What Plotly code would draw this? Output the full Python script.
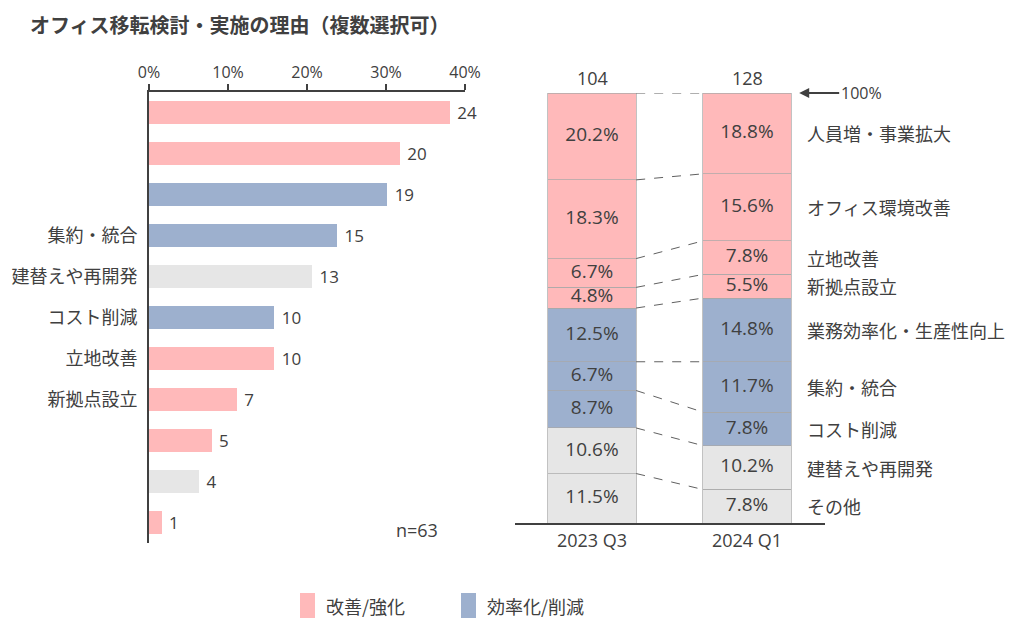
import numpy as np
import plotly.graph_objects as go

FONT = "Open Sans, Noto Sans CJK JP"
JFONT = "Noto Sans CJK JP"
TXT = "#404040"
PINK = "#FFB9BA"
BLUE = "#9DB0CE"
GRAY = "#E6E6E6"

# ---- left chart data ----
left_counts = [24, 20, 19, 15, 13, 10, 10, 7, 5, 4, 1]
left_labels = ["", "", "", "集約・統合", "建替えや再開発", "コスト削減", "立地改善", "新拠点設立", "", "", ""]
left_groups = ["pink", "pink", "blue", "blue", "gray", "blue", "pink", "pink", "pink", "gray", "pink"]
left_n = 63
left_ticks = [0, 10, 20, 30, 40]

# ---- right chart data ----
periods = ["2023 Q3", "2024 Q1"]
period_totals = [104, 128]
right_cats = ["人員増・事業拡大", "オフィス環境改善", "立地改善", "新拠点設立",
              "業務効率化・生産性向上", "集約・統合", "コスト削減", "建替えや再開発", "その他"]
right_groups = ["pink", "pink", "pink", "pink", "blue", "blue", "blue", "gray", "gray"]
share_2023 = [20.2, 18.3, 6.7, 4.8, 12.5, 6.7, 8.7, 10.6, 11.5]
share_2024 = [18.8, 15.6, 7.8, 5.5, 14.8, 11.7, 7.8, 10.2, 7.8]

legend_items = [("改善/強化", "pink"), ("効率化/削減", "blue")]
color_map = {"pink": PINK, "blue": BLUE, "gray": GRAY}

# page body has an 8px margin; figure is sized so it fits the window
OFF = 8
W, H = 1016 - 2 * OFF, 629 - 2 * OFF
def px(x):
    return (x - OFF) / W
def py(y):
    return 1 - (y - OFF) / H

fig = go.Figure()

# Left horizontal bars
pos = list(range(len(left_counts)))
pct = [c / left_n * 100 for c in left_counts]
fig.add_trace(go.Bar(
    x=pct, y=pos, orientation="h",
    marker=dict(color=[color_map[g] for g in left_groups], line=dict(width=0)),
    text=["\u00a0" + str(c) for c in left_counts], textposition="outside",
    textfont=dict(family=FONT, size=17, color=TXT),
    cliponaxis=False, width=0.56, xaxis="x", yaxis="y", showlegend=False,
    hoverinfo="skip",
))

# Right stacked bars
s23 = np.array(share_2023)
s24 = np.array(share_2024)
BW = 0.57
for i in reversed(range(len(right_cats))):
    fig.add_trace(go.Bar(
        x=[0, 1], y=[s23[i], s24[i]], name=right_cats[i],
        marker=dict(color=color_map[right_groups[i]], line=dict(color="#a8a8a8", width=0.7)),
        width=BW, xaxis="x2", yaxis="y2", showlegend=False, hoverinfo="skip",
    ))

# cumulative from top
top23 = 100 - np.concatenate([[0], np.cumsum(s23)])
top24 = 100 - np.concatenate([[0], np.cumsum(s24)])
mid23 = top23[:-1] - s23 / 2
mid24 = top24[:-1] - s24 / 2

# connector dashed lines (boundaries except bottom)
for k in range(len(right_cats)):
    fig.add_trace(go.Scatter(
        x=[0 + BW / 2, 1 - BW / 2], y=[top23[k], top24[k]], mode="lines",
        line=dict(color="#606060", width=1, dash="dash"),
        xaxis="x2", yaxis="y2", showlegend=False, hoverinfo="skip",
    ))

# segment labels
fig.add_trace(go.Scatter(
    x=[0] * len(right_cats) + [1] * len(right_cats),
    y=list(mid23) + list(mid24), mode="text",
    text=[f"{v:.1f}%" for v in share_2023] + [f"{v:.1f}%" for v in share_2024],
    textfont=dict(family=FONT, size=19, color=TXT),
    xaxis="x2", yaxis="y2", showlegend=False, hoverinfo="skip",
))

annotations = []
# totals above bars
for i, t in enumerate(period_totals):
    annotations.append(dict(x=i, y=100, xref="x2", yref="y2", text=str(t), showarrow=False,
                            yanchor="bottom", yshift=1, font=dict(family=FONT, size=18, color=TXT)))
# category labels to the right
for i, c in enumerate(right_cats):
    annotations.append(dict(x=1 + BW / 2, y=mid24[i], xref="x2", yref="y2", text=c, showarrow=False,
                            xanchor="left", xshift=14, font=dict(family=JFONT, size=18, color=TXT)))
# 100% arrow
annotations.append(dict(x=1 + BW / 2, y=100, xref="x2", yref="y2", text="100%",
                        showarrow=True, ax=48, ay=0, xanchor="left", arrowhead=2, arrowsize=1,
                        arrowwidth=2, arrowcolor="#404040", standoff=8,
                        font=dict(family=FONT, size=16, color=TXT)))
# title
annotations.append(dict(x=px(28), y=1, xref="paper", yref="paper", xanchor="left", yanchor="top",
                        text="<b>オフィス移転検討・実施の理由（複数選択可）</b>", showarrow=False,
                        font=dict(family=JFONT, size=20, color=TXT)))
# n=63
annotations.append(dict(x=px(394), y=py(530), xref="paper", yref="paper", xanchor="left", yanchor="middle",
                        text=f"n={left_n}", showarrow=False, font=dict(family=FONT, size=18, color=TXT)))

# legend (custom)
shapes = []
leg_x = [300, 461]
for (lab, g), lx in zip(legend_items, leg_x):
    shapes.append(dict(type="rect", xref="paper", yref="paper", x0=px(lx), x1=px(lx + 15),
                       y0=py(618), y1=py(593), fillcolor=color_map[g], line=dict(width=0)))
    annotations.append(dict(x=px(lx + 24), y=py(606), xref="paper", yref="paper", xanchor="left",
                            yanchor="middle", text=lab, showarrow=False,
                            font=dict(family=JFONT, size=18, color=TXT)))

fig.update_layout(
    width=W, height=H, margin=dict(l=0, r=0, t=0, b=0, pad=0),
    paper_bgcolor="white", plot_bgcolor="white",
    barmode="stack", showlegend=False,
    font=dict(family=FONT, size=16, color=TXT),
    xaxis=dict(domain=[px(149), px(465)], range=[0, 40], side="top", anchor="y", automargin=False,
               tickvals=left_ticks, ticktext=[f"{t}%" for t in left_ticks],
               ticks="outside", ticklen=6, tickwidth=2, tickcolor="#404040",
               showline=True, linecolor="#404040", linewidth=2, showgrid=False, zeroline=False,
               tickfont=dict(family=FONT, size=16, color=TXT), fixedrange=True),
    yaxis=dict(domain=[py(543), py(92)], range=[len(left_counts) - 0.5, -0.5], anchor="x", automargin=False,
               tickvals=pos, ticktext=left_labels, ticks="", showline=True, linecolor="#404040",
               linewidth=2, showgrid=False, zeroline=False, ticklabelstandoff=6,
               tickfont=dict(family=JFONT, size=18, color=TXT), fixedrange=True),
    xaxis2=dict(domain=[px(514.5), px(824.5)], range=[-0.5, 1.5], anchor="y2", automargin=False,
                tickvals=[0, 1], ticktext=periods, ticks="", showline=True, linecolor="#404040",
                linewidth=2, showgrid=False, zeroline=False,
                tickfont=dict(family=FONT, size=18, color=TXT), fixedrange=True),
    yaxis2=dict(domain=[py(523), py(93)], range=[0, 100], anchor="x2", visible=False, automargin=False,
                showgrid=False, zeroline=False, fixedrange=True),
    annotations=annotations, shapes=shapes,
)

fig.write_html("out.html")
